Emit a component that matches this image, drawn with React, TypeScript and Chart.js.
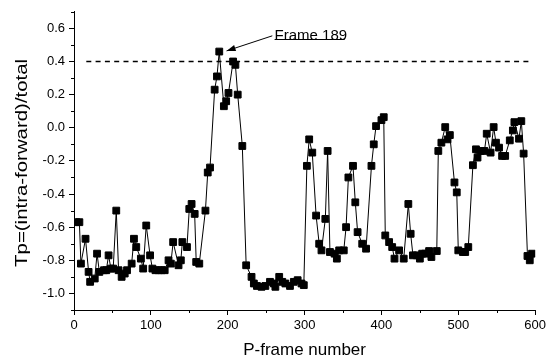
import React, { useEffect, useRef } from 'react';
import { Chart, registerables } from 'chart.js';

Chart.register(...registerables);

// ---- data ----
const frames: number[] = [
  3, 7, 9, 15, 19, 21, 27, 30, 33, 39, 42, 45, 48, 51, 55, 58, 62, 66, 69, 75,
  78, 81, 87, 90, 94, 99, 102, 106, 110, 114, 118, 123, 126, 129, 136, 139, 141, 147, 150, 153,
  157, 159, 163, 171, 174, 177, 183, 186, 189, 195, 198, 201, 207, 210, 213, 219, 224, 231, 234, 238,
  244, 249, 255, 260, 262, 267, 271, 275, 281, 286, 291, 296, 299, 303, 306, 310, 315, 319, 322, 327,
  330, 333, 339, 342, 345, 351, 354, 357, 363, 366, 369, 375, 380, 387, 390, 393, 400, 403, 405, 410,
  414, 417, 423, 429, 435, 438, 441, 446, 450, 453, 457, 462, 465, 472, 474, 478, 483, 486, 489, 495,
  498, 500, 506, 509, 513, 519, 523, 525, 529, 534, 537, 542, 546, 549, 553, 557, 561, 567, 571, 573,
  579, 582, 585, 590, 593, 596,
];
const tpValues: number[] = [
  -0.57, -0.57, -0.82, -0.67, -0.87, -0.93, -0.91, -0.76, -0.87, -0.86, -0.86, -0.77, -0.85, -0.85, -0.5, -0.86, -0.9, -0.88, -0.86, -0.82,
  -0.67, -0.72, -0.79, -0.85, -0.59, -0.77, -0.85, -0.86, -0.86, -0.86, -0.86, -0.8, -0.82, -0.69, -0.83, -0.8, -0.69, -0.72, -0.49, -0.46,
  -0.52, -0.81, -0.82, -0.5, -0.27, -0.24, 0.23, 0.31, 0.46, 0.13, 0.16, 0.21, 0.4, 0.38, 0.2, -0.11, -0.83, -0.9, -0.94, -0.955,
  -0.96, -0.955, -0.93, -0.94, -0.96, -0.9, -0.93, -0.94, -0.955, -0.93, -0.92, -0.94, -0.95, -0.23, -0.07, -0.15, -0.53, -0.7, -0.74, -0.55,
  -0.14, -0.75, -0.76, -0.79, -0.74, -0.74, -0.6, -0.3, -0.23, -0.45, -0.63, -0.7, -0.73, -0.23, -0.1, 0.01, 0.046, 0.064, -0.65, -0.69,
  -0.72, -0.79, -0.74, -0.79, -0.46, -0.64, -0.77, -0.77, -0.79, -0.76, -0.76, -0.744, -0.78, -0.744, -0.14, -0.09, 0.004, -0.07, -0.044, -0.33,
  -0.39, -0.74, -0.75, -0.75, -0.72, -0.226, -0.13, -0.18, -0.14, -0.14, -0.036, -0.15, 0.004, -0.09, -0.12, -0.17, -0.17, -0.076, -0.016, 0.034,
  -0.066, 0.04, -0.156, -0.774, -0.8, -0.76,
];

const xTicks: number[] = [0, 100, 200, 300, 400, 500, 600];
const xMinorTicks: number[] = [50, 150, 250, 350, 450, 550];
const yTicks: number[] = [-1.0, -0.8, -0.6, -0.4, -0.2, 0.0, 0.2, 0.4, 0.6];
const yMinorTicks: number[] = [-1.1, -0.9, -0.7, -0.5, -0.3, -0.1, 0.1, 0.3, 0.5, 0.7];

const threshold = 0.4;
const thresholdFrames: number[] = [16, 595];

const annotationText = 'Frame 189';
const annotationTextAt = { x: 261, y: 0.556 };
const annotationLineY = 0.537;
const annotationLineEnd = 352;
const arrowFrom = { x: 258, y: 0.555 };
const arrowTo = { x: 198.5, y: 0.464 };

const xTitle = 'P-frame number';
const yTitle = 'Tp=(intra-forward)/total';

const FONT = '"Liberation Sans", Arial, Helvetica, sans-serif';

const extrasPlugin = {
  id: 'extras',
  afterDraw(chart: any) {
    const { ctx, chartArea, scales } = chart;
    const xs = scales.x;
    const ys = scales.y;
    ctx.save();
    ctx.strokeStyle = '#000';
    ctx.fillStyle = '#000';
    ctx.lineWidth = 1;
    // minor ticks
    ctx.beginPath();
    for (const v of xMinorTicks) {
      const px = Math.round(xs.getPixelForValue(v)) + 0.5;
      ctx.moveTo(px, chartArea.bottom);
      ctx.lineTo(px, chartArea.bottom + 3);
    }
    for (const v of yMinorTicks) {
      const py = Math.round(ys.getPixelForValue(v)) + 0.5;
      ctx.moveTo(chartArea.left, py);
      ctx.lineTo(chartArea.left - 3, py);
    }
    ctx.stroke();

    // annotation
    const tx = xs.getPixelForValue(annotationTextAt.x);
    const ty = ys.getPixelForValue(annotationTextAt.y);
    ctx.font = `15px ${FONT}`;
    ctx.textAlign = 'left';
    ctx.textBaseline = 'middle';
    ctx.fillText(annotationText, tx, ty);
    const ly = Math.round(ys.getPixelForValue(annotationLineY)) + 0.5;
    ctx.beginPath();
    ctx.moveTo(tx, ly);
    ctx.lineTo(xs.getPixelForValue(annotationLineEnd), ly);
    ctx.stroke();

    const ax0 = xs.getPixelForValue(arrowFrom.x);
    const ay0 = ys.getPixelForValue(arrowFrom.y);
    const ax1 = xs.getPixelForValue(arrowTo.x);
    const ay1 = ys.getPixelForValue(arrowTo.y);
    ctx.beginPath();
    ctx.moveTo(ax0, ay0);
    ctx.lineTo(ax1, ay1);
    ctx.stroke();
    const ang = Math.atan2(ay1 - ay0, ax1 - ax0);
    const hl = 9;
    const hw = 3.2;
    const bx = ax1 - hl * Math.cos(ang);
    const by = ay1 - hl * Math.sin(ang);
    ctx.beginPath();
    ctx.moveTo(ax1, ay1);
    ctx.lineTo(bx + hw * Math.sin(ang), by - hw * Math.cos(ang));
    ctx.lineTo(bx - hw * Math.sin(ang), by + hw * Math.cos(ang));
    ctx.closePath();
    ctx.fill();

    // axis titles
    ctx.font = `17px ${FONT}`;
    ctx.textAlign = 'center';
    ctx.textBaseline = 'middle';
    ctx.fillText(xTitle, (chartArea.left + chartArea.right) / 2, 350);
    ctx.save();
    ctx.translate(22, (chartArea.top + chartArea.bottom) / 2 + 2);
    ctx.rotate(-Math.PI / 2);
    ctx.scale(1.2, 1);
    ctx.fillText(yTitle, 0, 0);
    ctx.restore();
    ctx.restore();
  },
};

export default function App() {
  const ref = useRef<HTMLCanvasElement | null>(null);
  useEffect(() => {
    document.body.style.margin = '0';
    const canvas = ref.current;
    if (!canvas) return;
    const chart = new Chart(canvas, {
      type: 'line',
      data: {
        datasets: [
          {
            data: frames.map((f, i) => ({ x: f, y: tpValues[i] })),
            borderColor: '#000',
            borderWidth: 1,
            pointStyle: 'rect',
            pointRadius: 4.8,
            pointBackgroundColor: '#000',
            pointBorderColor: '#000',
            pointBorderWidth: 1,
            tension: 0,
            fill: false,
          },
          {
            data: thresholdFrames.map((f) => ({ x: f, y: threshold })),
            borderColor: '#000',
            borderWidth: 1.4,
            borderDash: [5, 4.3],
            pointRadius: 0,
            fill: false,
          },
        ],
      },
      options: {
        animation: false,
        responsive: false,
        devicePixelRatio: 1,
        layout: { padding: { left: 0, right: 13, top: 10, bottom: 0 } },
        plugins: { legend: { display: false }, tooltip: { enabled: false } },
        scales: {
          x: {
            type: 'linear',
            min: 0,
            max: 600,
            afterBuildTicks: (s: any) => {
              s.ticks = xTicks.map((v) => ({ value: v }));
            },
            afterFit: (s: any) => {
              s.height = 51;
            },
            grid: { drawOnChartArea: false, drawTicks: true, tickLength: 5, color: '#000', lineWidth: 1 },
            border: { display: true, color: '#000', width: 1 },
            ticks: {
              color: '#000',
              font: { family: FONT, size: 13 },
              padding: 3,
              maxRotation: 0,
              autoSkip: false,
              callback: (v: any) => String(v),
            },
          },
          y: {
            type: 'linear',
            min: -1.1,
            max: 0.7,
            afterBuildTicks: (s: any) => {
              s.ticks = yTicks.map((v) => ({ value: v }));
            },
            afterFit: (s: any) => {
              s.width = 74;
            },
            grid: { drawOnChartArea: false, drawTicks: true, tickLength: 5, color: '#000', lineWidth: 1 },
            border: { display: true, color: '#000', width: 1 },
            ticks: {
              color: '#000',
              font: { family: FONT, size: 13 },
              padding: 4,
              autoSkip: false,
              callback: (v: any) => Number(v).toFixed(1),
            },
          },
        },
      },
      plugins: [extrasPlugin],
    });
    return () => chart.destroy();
  }, []);
  return (
    <canvas
      ref={ref}
      width={549}
      height={361}
      style={{ display: 'block', width: 549, height: 361 }}
    />
  );
}
